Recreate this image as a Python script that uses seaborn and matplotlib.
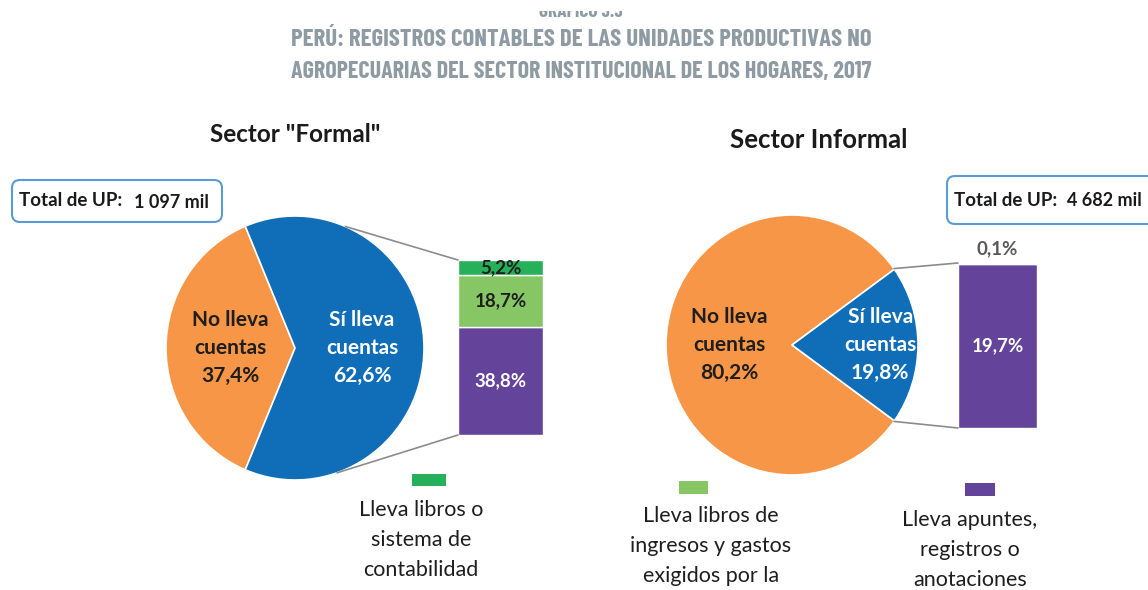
import matplotlib
matplotlib.use("Agg")
import matplotlib.pyplot as plt
import numpy as np
import seaborn as sns
from matplotlib import font_manager
from matplotlib.patches import ConnectionPatch, FancyBboxPatch, Rectangle
from matplotlib.transforms import Affine2D

# --- datos ---
titulo = ["PERÚ: REGISTROS CONTABLES DE LAS UNIDADES PRODUCTIVAS NO",
          "AGROPECUARIAS DEL SECTOR INSTITUCIONAL DE LOS HOGARES, 2017"]
sectores = ['Sector "Formal"', "Sector Informal"]
totales = ["1 097 mil", "4 682 mil"]
tipos_pie = ["No lleva\ncuentas", "Sí lleva\ncuentas"]
pie_formal = [37.4, 62.6]
pie_informal = [80.2, 19.8]
tipos_registro = ["Lleva apuntes,\nregistros o\nanotaciones",
                  "Lleva libros de\ningresos y gastos\nexigidos por la",
                  "Lleva libros o\nsistema de\ncontabilidad"]
barra_formal = [38.8, 18.7, 5.2]
barra_informal = [19.7, 0.1, 0.0]

c_pie = ["#F79646", "#0F6EB7"]
c_barra = ["#64449B", "#86C664", "#27B05A"]
c_texto_barra = ["white", "#1E1E1E", "#1E1E1E"]
gris_titulo = "#8E9BA3"

sns.set_theme(style="white")
plt.rcParams["font.family"] = ["Lato", "DejaVu Sans"]

W, H = 1148, 590
fig = plt.figure(figsize=(W / 100, H / 100), dpi=100)
# coordenadas en pixeles, origen arriba a la izquierda
pix = Affine2D().scale(1 / W, -1 / H).translate(0, 1) + fig.transFigure


def caja(x, y, w, h):
    return [x / W, 1 - (y + h) / H, w / W, h / H]


def pct(v):
    return f"{v:.1f}%".replace(".", ",")


def fuente_estrecha():
    # familia estrecha que tenga negrita de verdad
    negritas = {f.name for f in font_manager.fontManager.ttflist
                if isinstance(f.weight, int) and f.weight >= 600}
    for fam in ["Oswald", "Barlow Condensed", "Roboto Condensed", "Liberation Sans Narrow"]:
        if fam in negritas:
            return {"family": fam}
    return {"family": "Roboto Condensed"}


ft = fuente_estrecha()

# --- titulo ---
renderer = fig.canvas.get_renderer()
for linea, y in zip(titulo, [40, 72]):
    t = fig.text(581, y, linea, transform=pix, ha="center", va="center",
                 color=gris_titulo, fontweight="bold", fontsize=18, **ft)
    ancho = t.get_window_extent(renderer).width
    t.set_fontsize(18 * 580 / ancho)

fig.text(581, 17, "GRÁFICO 3.3", transform=pix, ha="center", va="baseline",
         color=gris_titulo, fontweight="bold", fontsize=14, **ft)
# el original viene recortado por arriba
fig.add_artist(Rectangle((0, 0), W, 11, transform=pix, fc="white", ec="none", zorder=10))

# --- subtitulos y totales ---
fig.text(295, 135, sectores[0], transform=pix, ha="center", va="center",
         fontsize=17.5, fontweight="bold", color="#1A1A1A")
fig.text(819, 140, sectores[1], transform=pix, ha="center", va="center",
         fontsize=18.5, fontweight="bold", color="#1A1A1A")

for (x, y, w, h), tot, xn in zip([(12, 180, 210, 42), (947, 176, 240, 48)], totales, [134, 1067]):
    fig.patches.append(FancyBboxPatch((x, y), w, h, boxstyle="round,pad=0,rounding_size=8",
                                      transform=pix, fc="white", ec="#5B9BD5", lw=1.5))
    fig.text(x + 7, y + h / 2, "Total de UP:", transform=pix, ha="left", va="center",
             fontsize=13.5, fontweight="bold", color="#1A1A1A")
    fig.text(xn, y + h / 2 + 1, tot, transform=pix, ha="left", va="center",
             fontsize=13, fontweight="bold", color="#1A1A1A")


# --- pie + barra ---
def pie_barra(pie_box, bar_box, pie_vals, bar_vals, label_r, ang_lineas):
    ax = fig.add_axes(caja(*pie_box))
    wedges, _ = ax.pie(pie_vals, colors=c_pie, startangle=180 - pie_vals[0] * 1.8,
                       wedgeprops=dict(edgecolor="white", linewidth=1.2))
    ax.set_xlim(-1, 1)
    ax.set_ylim(-1, 1)
    ax.set_aspect("auto")
    for w, lab, v, r, col in zip(wedges, tipos_pie, pie_vals, label_r, ["#1E1E1E", "white"]):
        a = np.deg2rad((w.theta1 + w.theta2) / 2)
        ax.text(r * np.cos(a), r * np.sin(a), f"{lab}\n{pct(v)}", ha="center", va="center",
                color=col, fontsize=15, fontweight="bold", linespacing=1.5)

    axb = fig.add_axes(caja(*bar_box))
    fondos = np.concatenate([[0], np.cumsum(bar_vals)[:-1]])
    axb.bar([0] * len(bar_vals), bar_vals, bottom=fondos, width=1, color=c_barra)
    total = sum(bar_vals)
    axb.set_xlim(-0.5, 0.5)
    axb.set_ylim(0, total)
    axb.axis("off")
    for v, b, col in zip(bar_vals, fondos, c_texto_barra):
        if v >= 1:
            axb.text(0, b + v / 2, pct(v), ha="center", va="center", color=col,
                     fontsize=13.5, fontweight="bold")
        elif v > 0:
            axb.annotate(pct(v), (0, total), xytext=(0, 4), textcoords="offset points",
                         ha="center", va="bottom", color="#595959", fontsize=13.5,
                         fontweight="bold", annotation_clip=False)

    for ang, yb in zip(ang_lineas, [total, 0]):
        a = np.deg2rad(ang)
        fig.add_artist(ConnectionPatch(xyA=(np.cos(a), np.sin(a)), coordsA=ax.transData,
                                       xyB=(-0.5, yb), coordsB=axb.transData,
                                       color="#8C8C8C", lw=1.2))


pie_barra((166, 216, 258, 264), (458, 260, 85, 175), pie_formal, barra_formal,
          [0.5, 0.52], [67, -71])
pie_barra((666, 215, 252, 260), (958, 263, 79, 165), pie_informal, barra_informal,
          [0.5, 0.7], [36, -36])

# --- leyenda ---
leyenda = [(2, 429, 474, 34, 12, 421, 540),
           (1, 693, 481, 29, 13, 711, 546),
           (0, 980, 483, 30, 13, 970, 550)]
for i, xs, ys, ws, hs, xt, yt in leyenda:
    fig.patches.append(Rectangle((xs - ws / 2, ys), ws, hs, transform=pix,
                                 fc=c_barra[i], ec="none"))
    fig.text(xt, yt, tipos_registro[i], transform=pix, ha="center", va="center",
             fontsize=15.5, color="#1E1E1E", linespacing=1.62)

fig.savefig("out.png", dpi=100)
